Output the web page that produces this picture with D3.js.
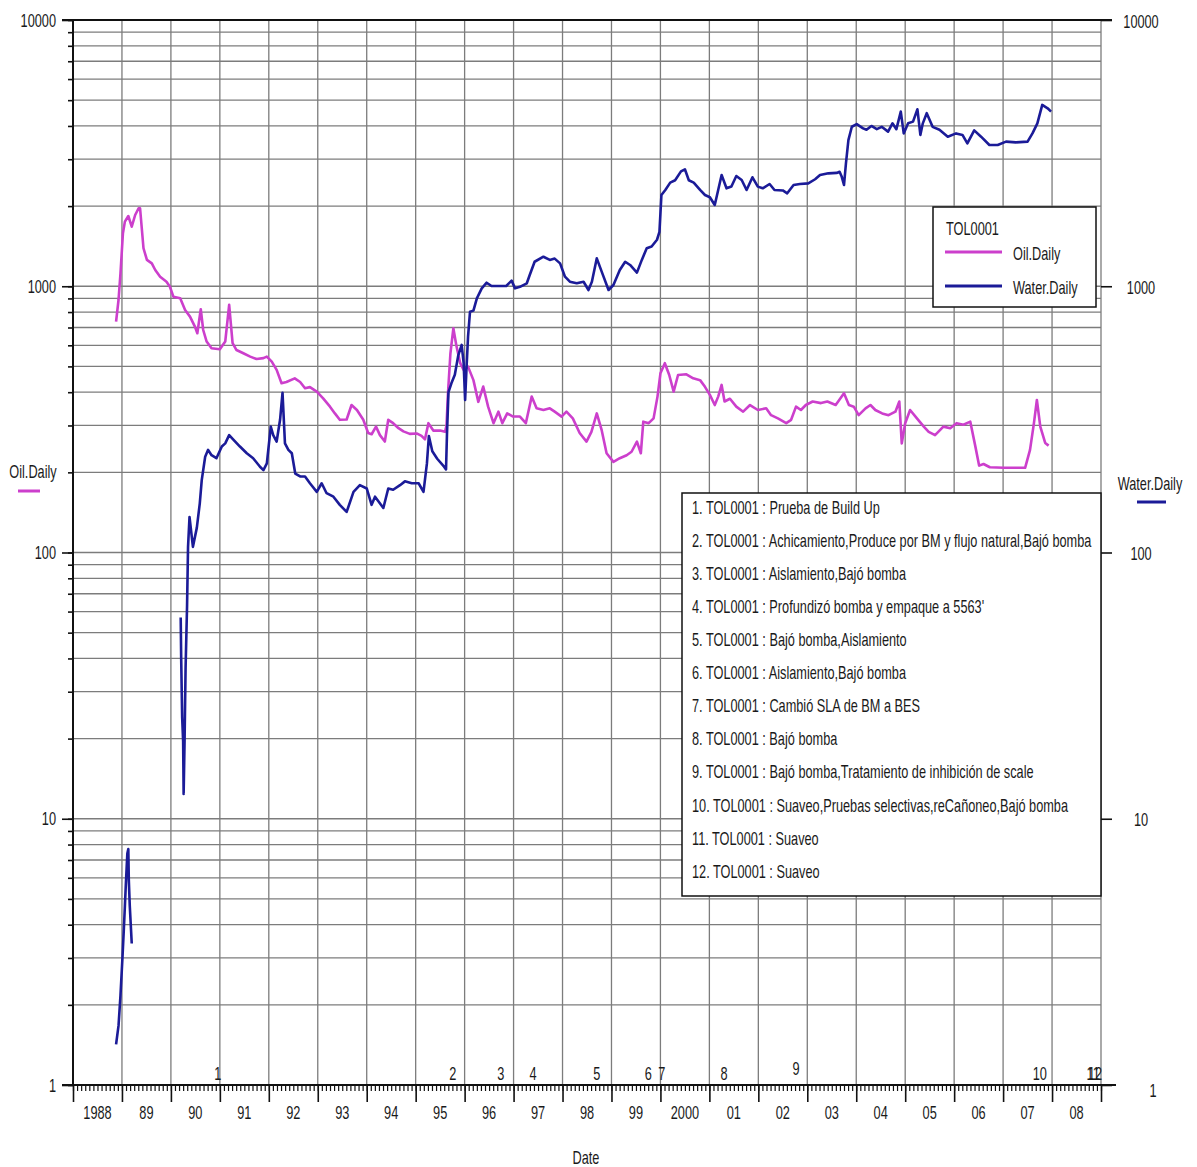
<!DOCTYPE html>
<html>
<head>
<meta charset="utf-8">
<script src="https://cdn.jsdelivr.net/npm/d3@7"></script>
<style>
  body { margin: 0; background: #fff; }
  svg { display: block; }
  text { font-family: "Liberation Sans", Arial, sans-serif; fill: #1a1a1a; }
</style>
</head>
<body>
<svg id="chart" width="1197" height="1167"></svg>
<script>
// Well TOL0001 – daily oil and water rates (decimal year, bbl/d)
const oilDates = [
  1988.88, 1988.93, 1988.97, 1989.02, 1989.06, 1989.13, 1989.20, 1989.27, 1989.34, 1989.37,
  1989.44, 1989.51, 1989.61, 1989.68, 1989.78, 1989.91, 1989.98, 1990.05, 1990.19, 1990.29,
  1990.39, 1990.49, 1990.54, 1990.61, 1990.66, 1990.73, 1990.83, 1991.00, 1991.11, 1991.19,
  1991.26, 1991.34, 1991.48, 1991.62, 1991.75, 1991.89, 1991.96, 1992.06, 1992.16, 1992.26,
  1992.36, 1992.53, 1992.64, 1992.74, 1992.84, 1992.98, 1993.11, 1993.25, 1993.35, 1993.45,
  1993.59, 1993.69, 1993.80, 1993.93, 1994.03, 1994.10, 1994.19, 1994.27, 1994.37, 1994.44,
  1994.54, 1994.65, 1994.75, 1994.88, 1995.02, 1995.12, 1995.19, 1995.26, 1995.36, 1995.50,
  1995.60, 1995.63, 1995.66, 1995.71, 1995.77, 1995.83, 1995.91, 1995.98, 1996.07, 1996.18,
  1996.28, 1996.38, 1996.48, 1996.59, 1996.69, 1996.77, 1996.87, 1996.99, 1997.13, 1997.25,
  1997.37, 1997.47, 1997.61, 1997.74, 1997.84, 1997.98, 1998.08, 1998.21, 1998.35, 1998.49,
  1998.59, 1998.70, 1998.80, 1998.90, 1999.04, 1999.17, 1999.31, 1999.41, 1999.52, 1999.60,
  1999.65, 1999.76, 1999.86, 1999.94, 2000.00, 2000.09, 2000.18, 2000.27, 2000.36, 2000.53,
  2000.67, 2000.81, 2000.91, 2001.01, 2001.11, 2001.18, 2001.25, 2001.31, 2001.42, 2001.55,
  2001.69, 2001.83, 2001.99, 2002.16, 2002.26, 2002.40, 2002.57, 2002.67, 2002.77, 2002.87,
  2002.97, 2003.11, 2003.28, 2003.41, 2003.58, 2003.75, 2003.85, 2003.95, 2004.05, 2004.19,
  2004.29, 2004.39, 2004.53, 2004.66, 2004.80, 2004.88, 2004.93, 2005.00, 2005.10, 2005.24,
  2005.38, 2005.48, 2005.61, 2005.78, 2005.92, 2006.05, 2006.19, 2006.33, 2006.43, 2006.51,
  2006.60, 2006.73, 2007.01, 2007.28, 2007.45, 2007.55, 2007.63, 2007.69, 2007.76, 2007.86,
  2007.93
];
const oilValues = [
  736, 888, 1119, 1581, 1749, 1836, 1674, 1852, 1963, 1963,
  1389, 1256, 1219, 1151, 1086, 1040, 996, 914, 901, 814,
  769, 705, 666, 820, 685, 620, 585, 580, 620, 851,
  611, 576, 560, 544, 533, 537, 544, 521, 485, 432,
  437, 451, 437, 414, 418, 402, 379, 353, 333, 315,
  316, 358, 343, 315, 281, 278, 297, 276, 261, 315,
  306, 293, 285, 279, 280, 274, 266, 306, 287, 287,
  284, 300, 396, 560, 695, 600, 514, 485, 499, 444,
  368, 420, 353, 306, 338, 306, 333, 324, 324, 306,
  385, 348, 343, 348, 338, 324, 338, 319, 281, 261,
  284, 333, 288, 236, 219, 226, 232, 239, 261, 236,
  310, 306, 319, 385, 471, 514, 464, 402, 464, 467,
  451, 444, 419, 391, 358, 385, 426, 369, 378, 353,
  338, 358, 343, 348, 328, 319, 306, 315, 353, 343,
  358, 369, 364, 369, 358, 396, 358, 353, 328, 348,
  358, 343, 333, 328, 338, 369, 257, 306, 343, 319,
  297, 284, 276, 297, 293, 306, 302, 310, 252, 212,
  215, 209, 208, 208, 208, 243, 306, 374, 297, 258,
  252
];

// null marks the period without water measurements
const waterDates = [
  1988.88, 1988.93, 1988.97, 1989.01, 1989.04, 1989.06, 1989.08, 1989.11, 1989.13, 1989.14,
  1989.16, 1989.20, 1989.60, 1990.20, 1990.21, 1990.23, 1990.25, 1990.26, 1990.28, 1990.30,
  1990.33, 1990.35, 1990.38, 1990.45, 1990.53, 1990.59, 1990.63, 1990.70, 1990.76, 1990.83,
  1990.93, 1991.04, 1991.11, 1991.19, 1991.28, 1991.41, 1991.55, 1991.68, 1991.82, 1991.89,
  1991.96, 1992.04, 1992.09, 1992.16, 1992.23, 1992.28, 1992.33, 1992.40, 1992.47, 1992.54,
  1992.64, 1992.74, 1992.84, 1992.98, 1993.08, 1993.18, 1993.32, 1993.45, 1993.59, 1993.73,
  1993.86, 1994.00, 1994.10, 1994.17, 1994.34, 1994.44, 1994.54, 1994.68, 1994.78, 1994.92,
  1995.06, 1995.16, 1995.23, 1995.27, 1995.34, 1995.44, 1995.58, 1995.62, 1995.64, 1995.67,
  1995.73, 1995.80, 1995.87, 1995.94, 1995.98, 1996.01, 1996.04, 1996.07, 1996.11, 1996.18,
  1996.25, 1996.35, 1996.45, 1996.55, 1996.72, 1996.85, 1996.96, 1997.03, 1997.13, 1997.27,
  1997.33, 1997.43, 1997.61, 1997.74, 1997.84, 1997.95, 1998.05, 1998.15, 1998.29, 1998.43,
  1998.53, 1998.60, 1998.70, 1998.80, 1998.94, 1999.04, 1999.17, 1999.28, 1999.38, 1999.52,
  1999.62, 1999.72, 1999.82, 1999.93, 1999.98, 2000.02, 2000.10, 2000.20, 2000.30, 2000.42,
  2000.50, 2000.58, 2000.68, 2000.81, 2000.91, 2001.01, 2001.11, 2001.18, 2001.25, 2001.35,
  2001.45, 2001.55, 2001.66, 2001.76, 2001.88, 2001.99, 2002.09, 2002.23, 2002.33, 2002.50,
  2002.59, 2002.72, 2002.85, 2003.02, 2003.16, 2003.26, 2003.43, 2003.60, 2003.66, 2003.70,
  2003.75, 2003.79, 2003.84, 2003.91, 2004.01, 2004.14, 2004.21, 2004.31, 2004.42, 2004.52,
  2004.65, 2004.74, 2004.82, 2004.91, 2004.97, 2005.06, 2005.16, 2005.25, 2005.31, 2005.36,
  2005.44, 2005.56, 2005.70, 2005.87, 2006.04, 2006.17, 2006.27, 2006.41, 2006.55, 2006.72,
  2006.89, 2007.06, 2007.26, 2007.50, 2007.60, 2007.70, 2007.80, 2007.91, 2007.98
];
const waterValues = [
  1.42, 1.67, 2.17, 3.0, 3.9, 4.7, 5.7, 7.4, 7.7, 5.9,
  4.7, 3.4, null, 57, 40, 24, 19.5, 12.4, 20, 37,
  63, 105, 136, 105, 124, 153, 187, 229, 243, 232,
  226, 250, 257, 276, 265, 250, 236, 226, 210, 204,
  216, 297, 276, 261, 315, 398, 257, 243, 236, 198,
  193, 193, 182, 169, 182, 167, 162, 151, 142, 169,
  179, 174, 151, 162, 147, 174, 172, 179, 185, 182,
  182, 169, 216, 274, 240, 225, 210, 205, 280, 400,
  432, 465, 550, 602, 514, 374, 499, 647, 802, 810,
  901, 982, 1031, 1002, 1002, 1002, 1050, 982, 995, 1026,
  1102, 1236, 1291, 1256, 1270, 1219, 1086, 1040, 1026, 1040,
  968, 1040, 1273, 1135, 968, 1011, 1151, 1236, 1202, 1125,
  1256, 1389, 1410, 1495, 1600, 2200, 2300, 2450, 2500, 2700,
  2750, 2500, 2450, 2300, 2202, 2160, 2020, 2299, 2618, 2333,
  2370, 2595, 2506, 2299, 2566, 2367, 2333, 2421, 2299, 2290,
  2234, 2400, 2421, 2434, 2523, 2618, 2655, 2665, 2690, 2590,
  2400, 2897, 3540, 3973, 4066, 3917, 3870, 4000, 3890, 3970,
  3808, 4091, 3890, 4529, 3751, 4091, 4152, 4620, 3700, 4091,
  4466, 3970, 3870, 3645, 3750, 3700, 3441, 3850, 3645, 3393,
  3393, 3494, 3470, 3494, 3750, 4091, 4797, 4660, 4529
];

// Well interventions
const eventDates = [1990.96, 1995.76, 1996.74, 1997.40, 1998.70, 1999.75, 2000.03, 2001.30, 2002.77, 2007.75, 2008.84, 2008.88];
const eventNumbers = ["1", "2", "3", "4", "5", "6", "7", "8", "9", "10", "11", "12"];
const eventRemarks = [
  "1. TOL0001 : Prueba de Build Up",
  "2. TOL0001 : Achicamiento,Produce por BM y flujo natural,Bajó bomba",
  "3. TOL0001 : Aislamiento,Bajó bomba",
  "4. TOL0001 : Profundizó bomba y empaque a 5563'",
  "5. TOL0001 : Bajó bomba,Aislamiento",
  "6. TOL0001 : Aislamiento,Bajó  bomba",
  "7. TOL0001 : Cambió SLA de BM a BES",
  "8. TOL0001 : Bajó bomba",
  "9. TOL0001 : Bajó bomba,Tratamiento de inhibición de scale",
  "10. TOL0001 : Suaveo,Pruebas selectivas,reCañoneo,Bajó bomba",
  "11. TOL0001 : Suaveo",
  "12. TOL0001 : Suaveo"
];

const yearTicks = d3.range(1988, 2010);
const yearLabels = ["1988", "89", "90", "91", "92", "93", "94", "95", "96", "97", "98", "99",
                    "2000", "01", "02", "03", "04", "05", "06", "07", "08"];
const decadeTicks = [1, 10, 100, 1000, 10000];
const seriesNames = ["Oil.Daily", "Water.Daily"];
const wellName = "TOL0001";

const OIL = "#cc3fcc", WATER = "#1b1b98", GRID = "#7c7c7c", INK = "#111";
const FS = 19;         // label font size
const NARROW = 0.67;   // horizontal condensing applied to every label

const svg = d3.select("#chart");
const x = d3.scaleLinear().domain([1988, 2009]).range([73, 1101]);
const y = d3.scaleLog().domain([1, 10000]).range([1085, 20]);
const [x0, x1] = x.range();
const [yB, yT] = y.range();

const minorValues = d3.range(0, 4).flatMap(e => d3.range(1, 10).map(m => m * Math.pow(10, e))).concat([10000]);

// grid
svg.append("g").selectAll("line").data(minorValues.filter(v => v > 1 && v < 10000)).join("line")
  .attr("x1", x0).attr("x2", x1).attr("y1", d => y(d)).attr("y2", d => y(d))
  .attr("stroke", GRID).attr("stroke-width", 1.3);
svg.append("g").selectAll("line").data(yearTicks.slice(1)).join("line")
  .attr("x1", d => x(d)).attr("x2", d => x(d)).attr("y1", yT).attr("y2", yB)
  .attr("stroke", GRID).attr("stroke-width", 1.3);

// left axis: minor and decade ticks
const leftMinor = svg.append("g").attr("transform", `translate(${x0},0)`)
  .call(d3.axisLeft(y).tickValues(minorValues).tickSize(5).tickFormat(""));
const leftMajor = svg.append("g").attr("transform", `translate(${x0},0)`)
  .call(d3.axisLeft(y).tickValues(decadeTicks).tickSize(11).tickPadding(6).tickFormat(d3.format("d")));
leftMajor.selectAll("text").attr("font-size", FS).attr("dy", "0.32em").attr("font-family", null);

// right axis
const rightAxis = svg.append("g").attr("transform", `translate(${x1},0)`)
  .call(d3.axisRight(y).tickValues(decadeTicks).tickSize(11).tickFormat(""));
svg.append("g").selectAll("text").data(decadeTicks).join("text")
  .attr("x", d => d === 1 ? 1153 : 1141).attr("y", d => y(d) + (d === 1 ? 5 : 1)).attr("dy", "0.35em")
  .attr("text-anchor", "middle").attr("font-size", FS).text(d3.format("d"));

// bottom axis: monthly and yearly ticks
const months = d3.range(0, 21 * 12 + 1).map(k => 1988 + k / 12);
const bottomMinor = svg.append("g").attr("transform", `translate(0,${yB})`)
  .call(d3.axisBottom(x).tickValues(months).tickSize(6).tickFormat(""));
const bottomMajor = svg.append("g").attr("transform", `translate(0,${yB})`)
  .call(d3.axisBottom(x).tickValues(yearTicks).tickSize(17).tickFormat(""));
svg.append("g").selectAll("text").data(yearLabels).join("text")
  .attr("x", (d, i) => x(1988 + i + 0.5)).attr("y", 1112).attr("dy", "0.35em")
  .attr("text-anchor", "middle").attr("font-size", FS).text(d => d);

[leftMinor, leftMajor, rightAxis, bottomMinor, bottomMajor].forEach(g => {
  g.select(".domain").remove();
  g.selectAll(".tick line").attr("stroke", INK).attr("stroke-width", 1.6);
});
bottomMinor.selectAll(".tick line").attr("stroke-width", 1.2);

// frame lines
svg.append("line").attr("x1", x0).attr("x2", x0).attr("y1", yT).attr("y2", yB).attr("stroke", INK).attr("stroke-width", 2);
svg.append("line").attr("x1", 62).attr("x2", 1112).attr("y1", yT).attr("y2", yT).attr("stroke", INK).attr("stroke-width", 2);
svg.append("line").attr("x1", 62).attr("x2", 1116).attr("y1", yB).attr("y2", yB).attr("stroke", INK).attr("stroke-width", 2);

// series
const line = d3.line().defined(d => d.v != null).x(d => x(d.t)).y(d => y(d.v));
const oilData = oilDates.map((t, i) => ({ t, v: oilValues[i] }));
const waterData = waterDates.map((t, i) => ({ t, v: waterValues[i] }));
svg.append("path").datum(oilData).attr("d", line).attr("fill", "none")
  .attr("stroke", OIL).attr("stroke-width", 2.6).attr("stroke-linejoin", "round");
svg.append("path").datum(waterData).attr("d", line).attr("fill", "none")
  .attr("stroke", WATER).attr("stroke-width", 2.6).attr("stroke-linejoin", "round");

// event numbers along the date axis
svg.append("g").selectAll("text").data(eventDates).join("text")
  .attr("x", d => x(d)).attr("y", (d, i) => i === 8 ? 1068 : 1073).attr("dy", "0.35em")
  .attr("text-anchor", "middle").attr("font-size", FS)
  .text((d, i) => eventNumbers[i]);

// remarks box
const rb = { x: 682, y: 493, w: x1 - 682, h: 403 };
svg.append("rect").attr("x", rb.x).attr("y", rb.y).attr("width", rb.w).attr("height", rb.h)
  .attr("fill", "#fff").attr("stroke", INK).attr("stroke-width", 1.5);
svg.append("g").selectAll("text").data(eventRemarks).join("text")
  .attr("x", rb.x + 10).attr("y", (d, i) => rb.y + 14 + i * 33.1).attr("dy", "0.35em")
  .attr("font-size", FS).text(d => d);

// legend
const lg = { x: 933, y: 207, w: 163, h: 100 };
svg.append("rect").attr("x", lg.x).attr("y", lg.y).attr("width", lg.w).attr("height", lg.h)
  .attr("fill", "#fff").attr("stroke", INK).attr("stroke-width", 1.5);
svg.append("text").attr("x", lg.x + 13).attr("y", lg.y + 21).attr("dy", "0.35em").attr("font-size", FS).text(wellName);
[OIL, WATER].forEach((c, i) => {
  const yy = lg.y + 45 + i * 34;
  svg.append("line").attr("x1", lg.x + 12).attr("x2", lg.x + 69).attr("y1", yy).attr("y2", yy)
    .attr("stroke", c).attr("stroke-width", 3);
  svg.append("text").attr("x", lg.x + 80).attr("y", yy + 1).attr("dy", "0.35em").attr("font-size", FS).text(seriesNames[i]);
});

// axis titles with series swatches
svg.append("text").attr("x", 33).attr("y", 471).attr("dy", "0.35em").attr("text-anchor", "middle").attr("font-size", FS).text(seriesNames[0]);
svg.append("line").attr("x1", 18).attr("x2", 40).attr("y1", 491).attr("y2", 491).attr("stroke", OIL).attr("stroke-width", 3);
svg.append("text").attr("x", 1150).attr("y", 483).attr("dy", "0.35em").attr("text-anchor", "middle").attr("font-size", FS).text(seriesNames[1]);
svg.append("line").attr("x1", 1137).attr("x2", 1166).attr("y1", 502).attr("y2", 502).attr("stroke", WATER).attr("stroke-width", 3);
svg.append("text").attr("x", 586).attr("y", 1157).attr("dy", "0.35em").attr("text-anchor", "middle").attr("font-size", FS).text("Date");

// narrow lettering throughout
svg.selectAll("text").each(function () {
  const w = this.getComputedTextLength();
  if (w > 0) {
    this.setAttribute("textLength", (w * NARROW).toFixed(1));
    this.setAttribute("lengthAdjust", "spacingAndGlyphs");
  }
});
</script>
</body>
</html>
